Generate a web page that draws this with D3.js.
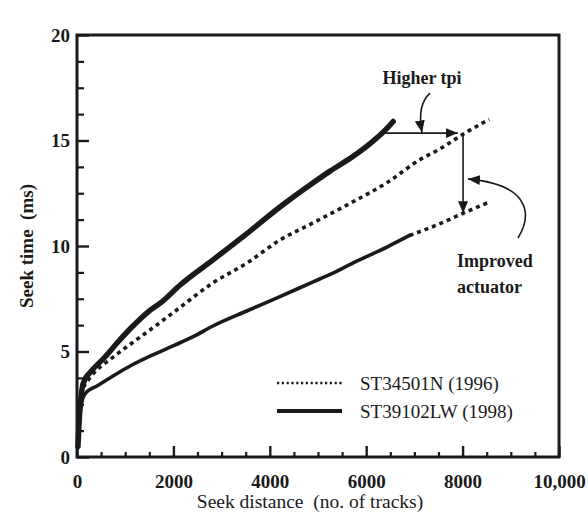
<!DOCTYPE html>
<html>
<head>
<meta charset="utf-8">
<script src="https://cdn.jsdelivr.net/npm/d3@7"></script>
<style>
  html, body { margin: 0; padding: 0; background: #fff; }
  svg { display: block; }
  text { font-family: "Liberation Serif", "Times New Roman", serif; fill: #1a1a1a; white-space: pre; }
</style>
</head>
<body>
<script>
// ---- data (seek distance in tracks, seek time in ms) ----
const st34501nMeasured = [
  [20,0.5],[40,1.5],[70,2.5],[110,3.3],[170,3.7],[270,4.0],[580,4.74],[850,5.45],
  [1140,6.16],[1470,6.87],[1760,7.35],[2140,8.15],[2820,9.34],[3530,10.6],[4210,11.85],
  [4900,13.0],[5250,13.55],[5730,14.25],[6080,14.85],[6400,15.5],[6560,15.9]
];
const st34501nHigherTpi = [
  [130,3.3],[300,3.85],[730,4.7],[1140,5.4],[1560,6.1],[2000,6.85],[2820,8.25],
  [3530,9.2],[4210,10.28],[4900,11.1],[5730,12.1],[6430,13.0],[7120,14.1],
  [7530,14.6],[8010,15.3],[8550,16.0]
];
const st39102lwMeasured = [
  [20,0.5],[40,1.5],[80,2.4],[170,3.0],[440,3.4],[790,3.9],[1140,4.36],[1560,4.83],
  [2030,5.3],[2390,5.68],[2830,6.22],[3520,6.92],[4210,7.6],[4900,8.3],[5250,8.65],
  [5730,9.2],[6430,9.95],[6900,10.5]
];
const st39102lwExtended = [[6900,10.5],[7470,11.0],[8010,11.55],[8570,12.1]];

const xMajorTicks = [0,2000,4000,6000,8000,10000];
const xTickLabels = ["0","2000","4000","6000","8000","10,000"];
const yMajorTicks = [0,5,10,15,20];
const yTickLabels = ["0","5","10","15","20"];
const legendLabels = ["ST34501N (1996)","ST39102LW (1998)"];

// ---- layout ----
const W = 588, H = 516;
const svg = d3.select("body").append("svg").attr("width", W).attr("height", H);
const x = d3.scaleLinear().domain([0,10000]).range([77,559]);
const y = d3.scaleLinear().domain([0,20]).range([457,35]);
const ink = "#1a1a1a";

const defs = svg.append("defs");
defs.append("marker").attr("id","ah").attr("viewBox","0 0 12 10")
  .attr("refX",12).attr("refY",5).attr("markerWidth",12).attr("markerHeight",10)
  .attr("markerUnits","userSpaceOnUse").attr("orient","auto")
  .append("path").attr("d","M0,0 L12,5 L0,10 Z").attr("fill",ink);

// minor ticks
const xMinor = d3.range(0,10001,500).filter(v => v % 2000 !== 0);
const yMinor = d3.range(0,20.01,1.25).filter(v => v % 5 !== 0);
svg.append("g").attr("transform",`translate(0,${y(0)})`)
  .call(d3.axisBottom(x).tickValues(xMinor).tickSize(-5).tickFormat(""))
  .call(g => g.select(".domain").remove())
  .selectAll("line").attr("stroke",ink).attr("stroke-width",2.2);
svg.append("g").attr("transform",`translate(${x(0)},0)`)
  .call(d3.axisLeft(y).tickValues(yMinor).tickSize(-7).tickFormat(""))
  .call(g => g.select(".domain").remove())
  .selectAll("line").attr("stroke",ink).attr("stroke-width",2.2);

// major axes
const xAxis = svg.append("g").attr("transform",`translate(0,${y(0)})`)
  .call(d3.axisBottom(x).tickValues(xMajorTicks).tickSize(-11).tickPadding(18)
    .tickFormat((d,i) => xTickLabels[i]));
const yAxis = svg.append("g").attr("transform",`translate(${x(0)},0)`)
  .call(d3.axisLeft(y).tickValues(yMajorTicks).tickSize(-12).tickPadding(7)
    .tickFormat((d,i) => yTickLabels[i]));
[xAxis, yAxis].forEach(g => {
  g.select(".domain").remove();
  g.selectAll("line").attr("stroke",ink).attr("stroke-width",2.4);
  g.selectAll("text").attr("font-size",19).attr("font-weight","bold")
    .attr("font-family","'Liberation Serif', serif").attr("fill",ink);
});

// frame
svg.append("rect").attr("x",x(0)).attr("y",y(20))
  .attr("width",x(10000)-x(0)).attr("height",y(0)-y(20))
  .attr("fill","none").attr("stroke",ink).attr("stroke-width",3);

// axis titles
svg.append("text").attr("x",(x(0)+x(10000))/2 - 8).attr("y",508)
  .attr("text-anchor","middle").attr("font-size",19.5).text("Seek distance  (no. of tracks)");
svg.append("text").attr("transform",`translate(33,${(y(0)+y(20))/2}) rotate(-90)`)
  .attr("text-anchor","middle").attr("font-size",19).attr("font-weight","bold")
  .text("Seek time  (ms)");

// curves
const line = d3.line().x(d => x(d[0])).y(d => y(d[1])).curve(d3.curveMonotoneX);
svg.append("path").datum(st34501nMeasured).attr("d",line)
  .attr("fill","none").attr("stroke",ink).attr("stroke-width",5.5)
  .attr("stroke-linecap","round").attr("stroke-linejoin","round");
svg.append("path").datum(st34501nHigherTpi).attr("d",line)
  .attr("fill","none").attr("stroke",ink).attr("stroke-width",3.6)
  .attr("stroke-dasharray","4,4");
svg.append("path").datum(st39102lwMeasured).attr("d",line)
  .attr("fill","none").attr("stroke",ink).attr("stroke-width",3.6)
  .attr("stroke-linecap","round").attr("stroke-linejoin","round");
svg.append("path").datum(st39102lwExtended).attr("d",line)
  .attr("fill","none").attr("stroke",ink).attr("stroke-width",3.6)
  .attr("stroke-dasharray","4,4");

// annotations
svg.append("line").attr("x1",x(6330)).attr("y1",y(15.35)).attr("x2",x(7900)).attr("y2",y(15.35))
  .attr("stroke",ink).attr("stroke-width",1.6).attr("marker-end","url(#ah)");
svg.append("line").attr("x1",x(8010)).attr("y1",y(15.35)).attr("x2",x(8010)).attr("y2",y(11.55))
  .attr("stroke",ink).attr("stroke-width",1.6).attr("marker-end","url(#ah)");
svg.append("text").attr("x",x(7158)).attr("y",y(17.68)).attr("text-anchor","middle")
  .attr("font-size",18).attr("font-weight","bold").text("Higher tpi");
svg.append("path")
  .attr("d",`M${x(7324)},${y(17.25)} Q${x(7050)},${y(16.7)} ${x(7158)},${y(15.38)}`)
  .attr("fill","none").attr("stroke",ink).attr("stroke-width",1.6).attr("marker-end","url(#ah)");
svg.append("path")
  .attr("d",`M${x(9149)},${y(10.38)} C${x(9450)},${y(11.5)} ${x(9400)},${y(12.9)} ${x(8112)},${y(13.18)}`)
  .attr("fill","none").attr("stroke",ink).attr("stroke-width",1.6).attr("marker-end","url(#ah)");
svg.append("text").attr("x",x(7884)).attr("y",y(9.0)).attr("font-size",18).attr("font-weight","bold").text("Improved");
svg.append("text").attr("x",x(7884)).attr("y",y(7.77)).attr("font-size",18).attr("font-weight","bold").text("actuator");

// legend
const legY = [383, 411];
const legStyles = [{w:2.6, dash:"2.2,2.6"}, {w:4, dash:null}];
legendLabels.forEach((lab,i) => {
  const l = svg.append("line").attr("x1",277).attr("x2",342).attr("y1",legY[i]).attr("y2",legY[i])
    .attr("stroke",ink).attr("stroke-width",legStyles[i].w);
  if (legStyles[i].dash) l.attr("stroke-dasharray",legStyles[i].dash);
  svg.append("text").attr("x",360).attr("y",legY[i]+7).attr("font-size",19).text(lab);
});
</script>
</body>
</html>
